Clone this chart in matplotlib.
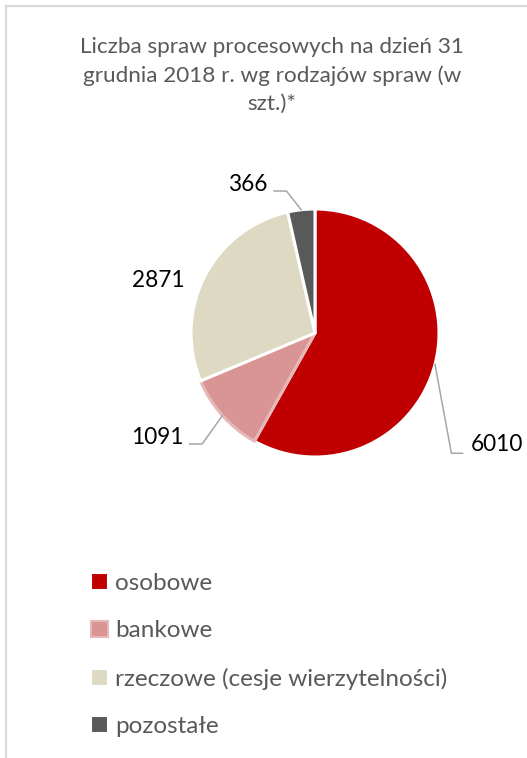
import matplotlib.pyplot as plt
import numpy as np
from matplotlib.patches import Patch
from matplotlib.lines import Line2D

plt.rcParams['font.family'] = ['Lato', 'DejaVu Sans']

# data
categories = ['osobowe', 'bankowe', 'rzeczowe (cesje wierzytelności)', 'pozostałe']
values = [6010, 1091, 2871, 366]
colors = ['#C00000', '#D99594', '#DDD9C3', '#595959']
edge_colors = ['white', '#E6B9B8', 'white', 'white']
title = 'Liczba spraw procesowych na dzień 31\ngrudnia 2018 r. wg rodzajów spraw (w\nszt.)*'

# label layout (text x, text y, ha, leader start x, leader elbow x, leader y)
label_layout = [
    (1.26, -0.90, 'left', 1.19, 1.10, -0.97),
    (-1.06, -0.84, 'right', -1.01, -0.91, -0.895),
    (-1.26, 0.42, 'center', None, None, None),
    (-0.38, 1.20, 'right', -0.33, -0.23, 1.145),
]

W, H = 527, 758
fig = plt.figure(figsize=(W / 100, H / 100), dpi=100)

# pie axes: centre (315, 333) px, radius 124 px
cx, cy, r = 315, 333, 124
ax = fig.add_axes([(cx - r) / W, 1 - (cy + r) / H, 2 * r / W, 2 * r / H])
wedges, _ = ax.pie(values, colors=colors, startangle=90, counterclock=False,
                   radius=1.0, wedgeprops=dict(linewidth=2.2))
for w, ec in zip(wedges, edge_colors):
    w.set_edgecolor(ec)
ax.set_xlim(-1, 1)
ax.set_ylim(-1, 1)
ax.axis('off')

for w, v, (tx, ty, ha, lx0, lx1, ly) in zip(wedges, values, label_layout):
    ax.text(tx, ty, str(v), ha=ha, va='center', fontsize=16.3, color='black')
    if lx0 is not None:
        mid = np.deg2rad((w.theta1 + w.theta2) / 2)
        ax.plot([lx0, lx1, np.cos(mid)], [ly, ly, np.sin(mid)],
                color='#A6A6A6', lw=1.1, clip_on=False)

fig.text(272 / W, 1 - 37 / H, title, ha='center', va='top', fontsize=16.2,
         color='#595959', linespacing=1.5)

handles = [Patch(facecolor=c, edgecolor=ec, linewidth=1.5) for c, ec in zip(colors, edge_colors)]
fig.legend(handles, categories, loc='upper left', bbox_to_anchor=(79 / W, 1 - 561 / H),
           frameon=False, fontsize=17.5, labelcolor='#595959', handlelength=0.68,
           handleheight=0.68, handletextpad=0.3, labelspacing=1.08, borderpad=0)

# chart frame (left and top edges)
fig.add_artist(Line2D([5.5 / W, 5.5 / W], [0, 1 - 5.5 / H], color='#D9D9D9', lw=1.6))
fig.add_artist(Line2D([5.5 / W, 1], [1 - 5.5 / H, 1 - 5.5 / H], color='#D9D9D9', lw=1.6))

fig.savefig('out.png', dpi=100)
